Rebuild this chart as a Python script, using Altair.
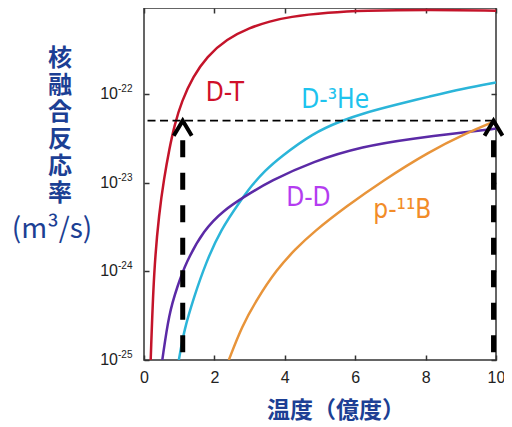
import altair as alt
import pandas as pd

# ---- data (temperature in 億度, rate in m^3/s) ----
dt_T = [0.19, 0.28, 0.43, 0.57, 0.72, 0.86, 1.07, 1.40, 1.78, 2.35, 3.01, 3.58, 4.10, 5.27, 6.21, 8.10, 10.0]
dt_R = [1.0e-25, 1.05e-24, 4.57e-24, 1.12e-23, 2.40e-23, 4.37e-23, 8.32e-23, 1.58e-22, 2.63e-22,
        4.17e-22, 5.62e-22, 6.61e-22, 7.41e-22, 8.32e-22, 8.71e-22, 8.91e-22, 8.71e-22]

dhe_T = [0.99, 1.14, 1.42, 1.75, 2.18, 2.75, 3.06, 3.45, 3.85, 4.80, 5.62, 6.21, 7.16, 8.10, 9.05, 10.0]
dhe_R = [1.0e-25, 2.19e-25, 5.13e-25, 1.23e-24, 2.95e-24, 6.31e-24, 9.33e-24, 1.38e-23, 1.91e-23,
         3.63e-23, 5.01e-23, 6.03e-23, 7.59e-23, 9.33e-23, 1.15e-22, 1.35e-22]

dd_T = [0.52, 0.71, 0.95, 1.18, 1.70, 2.27, 2.84, 3.60, 4.80, 6.21, 7.63, 9.17, 10.0]
dd_R = [1.0e-25, 3.39e-25, 6.76e-25, 1.23e-24, 2.95e-24, 4.90e-24, 6.92e-24, 1.05e-23, 1.74e-23,
        2.57e-23, 3.16e-23, 3.72e-23, 4.07e-23]

pb_T = [2.41, 2.78, 3.20, 3.77, 4.30, 4.80, 5.74, 6.78, 8.10, 9.17, 9.95]
pb_R = [1.0e-25, 2.40e-25, 4.79e-25, 1.05e-24, 1.78e-24, 2.75e-24, 5.37e-24, 1.05e-23, 2.24e-23,
        3.63e-23, 4.90e-23]

reactions = ["D-T", "D-3He", "D-D", "p-11B"]
line_colors = ["#c4142a", "#2bb5d9", "#5b2aa6", "#e8943a"]

label_text = ["D-T", "D-³He", "D-D", "p-¹¹B"]
label_T = [2.30, 5.43, 4.67, 7.34]
label_R = [8.4e-23, 7.0e-23, 5.47e-24, 3.98e-24]
label_colors = ["#d0102a", "#1ec3ee", "#b43cf0", "#f28c28"]

x_ticks = [0, 2, 4, 6, 8, 10]
y_ticks = [1e-25, 1e-24, 1e-23, 1e-22]
y_exps = ["-25", "-24", "-23", "-22"]

level_R = 5.0e-23          # horizontal dashed level
arrow_T = [1.10, 9.93]     # vertical dashed arrows
arrow_bottom = [1.0e-25, 1.0e-25]
arrow_top = [3.0e-23, 3.0e-23]

y_title_chars = ["核", "融", "合", "反", "応", "率"]
y_unit = "(m³/s)"
x_title = "温度（億度）"

# ---- tables ----
rows = []
for name, T, R in zip(reactions, [dt_T, dhe_T, dd_T, pb_T], [dt_R, dhe_R, dd_R, pb_R]):
    for t, r in zip(T, R):
        rows.append({"reaction": name, "T": t, "rate": r})
curves = pd.DataFrame(rows)
labels = pd.DataFrame({"text": label_text, "T": label_T, "rate": label_R, "reaction": reactions})
hline = pd.DataFrame({"x0": [0.1], "x1": [10.0], "y": [level_R]})
arrows = pd.DataFrame({"T": arrow_T, "y0": arrow_top, "y1": arrow_bottom, "tip": [level_R, level_R]})
ylab = pd.DataFrame({"v": y_ticks, "exp": y_exps})
one = pd.DataFrame({"k": [0]})

x_scale = alt.Scale(domain=[0, 10], nice=False, zero=False)
y_scale = alt.Scale(type="log", domain=[1e-25, 9.33e-22], nice=False)

tick_kw = dict(tickColor="#333333", tickWidth=1.5, tickSize=5, offset=-5,
               domain=False, grid=False, title=None)

label_font = "Liberation Sans Narrow, DejaVu Sans Condensed, Liberation Sans, sans-serif"
num_font = "Liberation Sans, Arial, sans-serif"
cjk_font = "Noto Sans CJK JP"
blue = "#1c3f94"

lines = alt.Chart(curves).mark_line(strokeWidth=2.5, interpolate="basis", clip=True).encode(
    x=alt.X("T:Q", scale=x_scale,
            axis=alt.Axis(orient="bottom", values=x_ticks, labelFontSize=16, labelFont=num_font,
                          labelColor="#222222", labelPadding=9, labelFlush=False, **tick_kw)),
    y=alt.Y("rate:Q", scale=y_scale,
            axis=alt.Axis(orient="left", values=y_ticks, labels=False, **tick_kw)),
    color=alt.Color("reaction:N", scale=alt.Scale(domain=reactions, range=line_colors), legend=None),
)

hl = alt.Chart(hline).mark_rule(color="black", strokeWidth=1.7, strokeDash=[8, 4.5]).encode(
    x=alt.X("x0:Q", scale=x_scale,
            axis=alt.Axis(orient="top", values=x_ticks, labels=False, **tick_kw)),
    x2="x1:Q",
    y=alt.Y("y:Q", scale=y_scale,
            axis=alt.Axis(orient="right", values=y_ticks, labels=False, **tick_kw)),
)

vrules = alt.Chart(arrows).mark_rule(color="black", strokeWidth=5, strokeDash=[17, 15.5]).encode(
    x=alt.X("T:Q", scale=x_scale, axis=None),
    y=alt.Y("y0:Q", scale=y_scale, axis=None),
    y2="y1:Q",
)

heads = alt.Chart(arrows).mark_point(shape="M-0.6,1L0,0L0.6,1", filled=False, size=900,
                                     strokeWidth=4, color="black", opacity=1,
                                     strokeJoin="miter").encode(
    x=alt.X("T:Q", scale=x_scale, axis=None),
    y=alt.Y("tip:Q", scale=y_scale, axis=None),
)

curve_labels = alt.Chart(labels).mark_text(fontSize=26, font=label_font, align="center",
                                           baseline="alphabetic").encode(
    x=alt.X("T:Q", scale=x_scale, axis=None),
    y=alt.Y("rate:Q", scale=y_scale, axis=None),
    text="text:N",
    color=alt.Color("reaction:N", scale=alt.Scale(domain=reactions, range=label_colors), legend=None),
)

ten = alt.Chart(ylab).mark_text(align="right", baseline="middle", fontSize=16, font=num_font,
                                color="#222222").encode(
    x=alt.value(-26),
    y=alt.Y("v:Q", scale=y_scale, axis=None),
    text=alt.value("10"),
)
expo = alt.Chart(ylab).mark_text(align="left", baseline="middle", dy=-5, fontSize=10, font=num_font,
                                 color="#222222").encode(
    x=alt.value(-26),
    y=alt.Y("v:Q", scale=y_scale, axis=None),
    text="exp:N",
)

ytitle = alt.Chart(one).mark_text(text=y_title_chars, align="center", baseline="middle", fontSize=24,
                                  lineHeight=27, font=cjk_font, fontWeight="bold", color=blue).encode(
    x=alt.value(-84), y=alt.value(51))
yunit = alt.Chart(one).mark_text(text=y_unit, align="center", baseline="middle", fontSize=28,
                                 font=cjk_font, color=blue).encode(
    x=alt.value(-92), y=alt.value(222))
xtitle = alt.Chart(one).mark_text(text=x_title, align="center", baseline="middle", fontSize=23,
                                  font=cjk_font, fontWeight="bold", color=blue).encode(
    x=alt.value(192), y=alt.value(403))

chart = alt.layer(
    lines, hl, vrules, heads, curve_labels, ten, expo, ytitle, yunit, xtitle
).resolve_axis(x="independent", y="independent").resolve_scale(
    color="independent"
).properties(
    width=352, height=352,
    autosize=alt.AutoSizeParams(type="none"),
    padding={"left": 136, "top": 0, "right": 8, "bottom": 64},
    background="white",
).configure_view(stroke="#333333", strokeWidth=1.5)

chart.save("out.html", embed_options={"renderer": "svg", "actions": False})
